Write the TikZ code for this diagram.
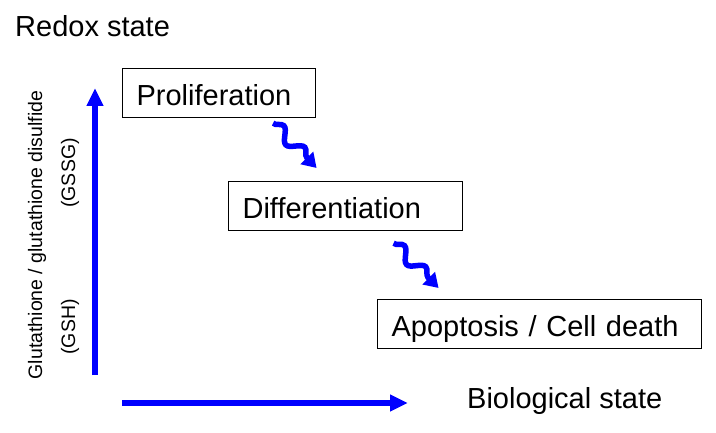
\documentclass[tikz,border=0pt]{standalone}
\usepackage{fontspec}
\setmainfont{Liberation Sans}
\usetikzlibrary{arrows.meta, decorations.pathmorphing}

\begin{document}
\begin{tikzpicture}[
    x=1pt, y=-1pt,
    font=\fontsize{29}{33}\selectfont,
    stagebox/.style={draw, line width=1.2pt, align=left, inner xsep=14pt, inner ysep=0pt,
        minimum height=49pt, text height=28pt, text depth=3pt},
    axisarrow/.style={draw=blue, line width=5.5pt, -{Triangle[length=18pt, width=16pt]}},
    wavyarrow/.style={draw=blue, line width=5.5pt, -{Triangle[length=14pt, width=17pt]},
        decorate, decoration={snake, amplitude=6pt, segment length=30pt, post length=12pt}},
    sidelabel/.style={font=\fontsize{19.5}{22}\selectfont, rotate=90, anchor=base, inner sep=0pt}
]
    \useasboundingbox (0,0) rectangle (716,433);

    \node[anchor=base west, inner sep=0pt] (redox) at (15,37) {Redox state};
    \node[anchor=base west, inner sep=0pt] (bio) at (467,408) {Biological state};

    \node[sidelabel] (glut) at (42,235) {Glutathione / glutathione disulfide};
    \node[sidelabel] (gssg) at (75,173) {(GSSG)};
    \node[sidelabel] (gsh) at (75,327) {(GSH)};

    \node[stagebox, text width=165pt, anchor=north west] (prolif) at (122,68) {Proliferation};
    \node[stagebox, text width=206pt, anchor=north west] (diff) at (228,181) {Differentiation};
    \node[stagebox, text width=296pt, anchor=north west] (apop) at (377,299) {Apoptosis / Cell death};

    \coordinate (origin) at (95,375);
    \coordinate (ytop) at (95,88);
    \coordinate (xstart) at (122,403);
    \coordinate (xend) at (408,403);
    \draw[axisarrow] (origin) -- (ytop);
    \draw[axisarrow] (xstart) -- (xend);

    \draw[wavyarrow] ([shift={(54pt,-5pt)}]prolif.south) -- ([shift={(-29pt,13pt)}]diff.north);
    \draw[wavyarrow] ([shift={(48pt,-12pt)}]diff.south) -- ([shift={(-101pt,11pt)}]apop.north);
\end{tikzpicture}
\end{document}
